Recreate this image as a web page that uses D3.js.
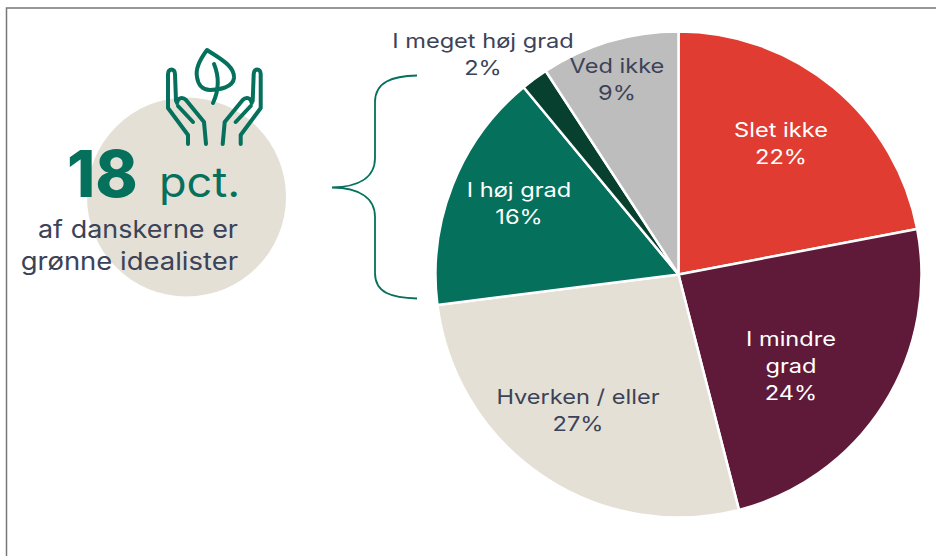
<!DOCTYPE html>
<html><head><meta charset="utf-8">
<script src="https://cdn.jsdelivr.net/npm/d3@7/dist/d3.min.js"></script>
<style>html,body{margin:0;padding:0;background:#fff}svg{display:block}text{font-family:Inter,"Open Sans",sans-serif}</style>
</head><body><div id="c"></div>
<script>
const categories=["Slet ikke","I mindre grad","Hverken / eller","I høj grad","I meget høj grad","Ved ikke"];
const values=[22,24,27,16,1.8,9.2];
const colors=["#E03C31","#5F1A3A","#E5E0D6","#05705B","#07402F","#BDBDBD"];
const textColor="#3B4358";
const labelLines=[["Slet ikke"],["I mindre","grad"],["Hverken / eller"],["I høj grad"],["I meget høj grad"],["Ved ikke"]];
const labelPos=[[781,137],[791,346],[578,404],[519,197],[483,48],[617,73]];
const labelFill=["#fff","#fff",textColor,"#fff",textColor,textColor];

const svg=d3.select("#c").append("svg").attr("width",936).attr("height",556);
svg.append("rect").attr("width",936).attr("height",556).attr("fill","#fff");
svg.append("path").attr("d","M6.5,556V8H936").attr("fill","none").attr("stroke","#777").attr("stroke-width",1.5);

// widen text to mimic the wide geometric face of the original
function wide(sel,k){
  const n=sel.node();
  sel.attr("textLength",n.getComputedTextLength()*k).attr("lengthAdjust","spacingAndGlyphs");
  return sel;
}
function put(x,y,s,size,fill,anchor,k,weight){
  return wide(svg.append("text").attr("x",x).attr("y",y).attr("font-size",size).attr("fill",fill)
    .attr("text-anchor",anchor).attr("font-weight",weight||400).text(s),k);
}

// left badge
svg.append("circle").attr("cx",186.5).attr("cy",197).attr("r",99.5).attr("fill",colors[2]);
const green=colors[3];
const icon=svg.append("g").attr("fill","none").attr("stroke",green).attr("stroke-width",4).attr("stroke-linecap","round").attr("stroke-linejoin","round");
icon.append("path").attr("d","M207,50C201,58 195,68 197,77C198,85 203,90 210,90C220,90 233,87 234,78C235,66 219,58 207,50Z");
icon.append("path").attr("d","M214,64C219,76 219,90 213,103");
const hand="M188,144L188,135L168,108L168,74C168,68 175,68 175,74L176,101M177,103C178,97 183,97 186,100L204,122L206,144M178,106L193,122";
icon.append("path").attr("d",hand);
icon.append("path").attr("d",hand).attr("transform","translate(428.7,0) scale(-1,1)");

put(67,197,"18",64,green,"start",1.0,800);
put(159,197,"pct.",41,green,"start",1.1);
put(238,238,"af danskerne er",24.5,textColor,"end",1.1);
put(238,270,"grønne idealister",24.5,textColor,"end",1.12);

// brace
svg.append("path").attr("fill","none").attr("stroke",green).attr("stroke-width",1.8)
 .attr("d","M417,75.5C392,76 375,82 375,102L375,158C375,178 358,187 332,187.5C358,188 375,197 375,217L375,273C375,293 392,298 417,298.5");

// pie
const cx=678.5,cy=274.5,r=243;
const pie=d3.pie().sort(null).value(d=>d)(values);
const arc=d3.arc().innerRadius(0).outerRadius(r);
const g=svg.append("g").attr("transform",`translate(${cx},${cy})`);
g.selectAll("path").data(pie).join("path").attr("d",arc).attr("fill",(d,i)=>colors[i]).attr("stroke","#fff").attr("stroke-width",2.5).attr("stroke-linejoin","round");

const lh=27;
categories.forEach((c,i)=>{
  const lines=[...labelLines[i],Math.round(values[i])+"%"];
  lines.forEach((s,j)=>put(labelPos[i][0],labelPos[i][1]+j*lh,s,20,labelFill[i],"middle",1.18));
});
</script></body></html>
